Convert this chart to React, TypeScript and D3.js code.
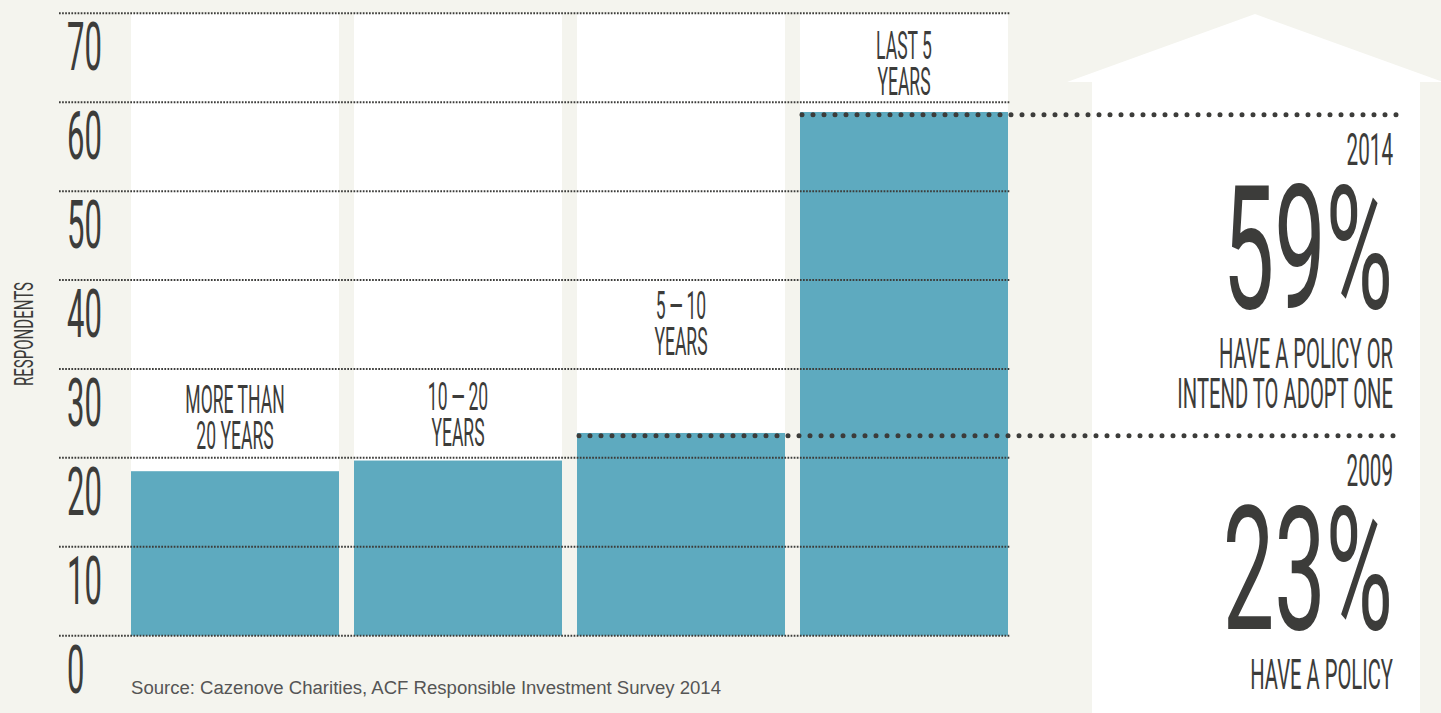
import * as d3 from "d3";

const categories = ["More than 20 years", "10-20 years", "5-10 years", "Last 5 years"];
const respondents = [18.5, 19.7, 22.8, 58.9];
const barLabels = [
  ["MORE THAN", "20 YEARS"],
  ["10\u2009\u2014\u200920", "YEARS"],
  ["5\u2009\u2014\u200910", "YEARS"],
  ["LAST 5", "YEARS"],
];
const yTicks = [0, 10, 20, 30, 40, 50, 60, 70];

const highlightBar = [3, 2];
const highlightYear = ["2014", "2009"];
const highlightPct = ["59%", "23%"];
const highlightText = [["HAVE A POLICY OR", "INTEND TO ADOPT ONE"], ["HAVE A POLICY"]];

const source = "Source: Cazenove Charities, ACF Responsible Investment Survey 2014";

const W = 1441;
const H = 713;
const BG = "#f4f4ee";
const INK = "#3c3c3a";
const BAR = "#5eaabf";
const COND = "Roboto, 'Liberation Sans', sans-serif";

// baseline of the last label line above each bar (pixels)
const labelBase = [449, 446, 355, 95];

function Cond({ x, y, size, sx = 0.46, anchor = "start", weight = 400, children }) {
  return (
    <g transform={`translate(${x},${y}) scale(${sx},1)`}>
      <text
        x={0}
        y={0}
        fontFamily={COND}
        fontSize={size}
        fontWeight={weight}
        fill={INK}
        textAnchor={anchor}
      >
        {children}
      </text>
    </g>
  );
}

export default function App() {
  const y = d3.scaleLinear().domain([0, 70]).range([635.7, 13.3]);
  const x = d3
    .scaleBand<string>()
    .domain(categories)
    .range([131, 1008])
    .paddingInner(15 / 223)
    .paddingOuter(0);

  const gridX0 = 59;
  const gridX1 = 1010;
  const panelRight = 1393;
  const dotEnd = 1397;

  return (
    <svg
      width={W}
      height={H}
      viewBox={`0 0 ${W} ${H}`}
      style={{ position: "fixed", left: 0, top: 0, display: "block" }}
    >
      <rect x={0} y={0} width={W} height={H} fill={BG} />

      {/* house-shaped panel */}
      <path d="M1067,82 L1255,14 L1443,82 L1420,82 L1420,713 L1092,713 L1092,82 Z" fill="#fff" />

      {/* white columns */}
      {categories.map((c) => (
        <rect key={c} x={x(c)} y={y(70)} width={x.bandwidth()} height={y(0) - y(70)} fill="#fff" />
      ))}

      {/* bars */}
      {categories.map((c, i) => (
        <rect
          key={c}
          x={x(c)}
          y={y(respondents[i])}
          width={x.bandwidth()}
          height={y(0) - y(respondents[i])}
          fill={BAR}
        />
      ))}

      {/* grid */}
      {yTicks.map((t) => (
        <line
          key={t}
          x1={gridX0}
          x2={gridX1}
          y1={y(t)}
          y2={y(t)}
          stroke={INK}
          strokeWidth={2}
          strokeDasharray="1.7 1.4"
        />
      ))}

      {/* y tick labels */}
      {yTicks.map((t) => (
        <Cond key={t} x={67} y={y(t) + 57} size={66} sx={0.47}>
          {t}
        </Cond>
      ))}

      <g transform="translate(33,334) rotate(-90)">
        <text
          x={0}
          y={0}
          fontFamily={COND}
          fontSize={25}
          fill={INK}
          textAnchor="middle"
          textLength={104}
          lengthAdjust="spacingAndGlyphs"
        >
          RESPONDENTS
        </text>
      </g>

      {/* bar labels */}
      {categories.map((c, i) =>
        barLabels[i].map((line, j) => (
          <Cond
            key={c + j}
            x={(x(c) as number) + x.bandwidth() / 2}
            y={labelBase[i] - (barLabels[i].length - 1 - j) * 36}
            size={39}
            anchor="middle"
            sx={0.45}
          >
            {line}
          </Cond>
        ))
      )}

      {/* highlight dotted lines and panel text */}
      {highlightBar.map((b, k) => {
        const c = categories[b];
        const dy = y(respondents[b]) + 2.7;
        return (
          <g key={k}>
            <line
              x1={(x(c) as number) + 2}
              x2={dotEnd}
              y1={dy}
              y2={dy}
              stroke={INK}
              strokeWidth={5}
              strokeLinecap="round"
              strokeDasharray="0 11"
            />
            <Cond x={panelRight} y={dy + 50} size={44} anchor="end" sx={0.47}>
              {highlightYear[k]}
            </Cond>
            <Cond x={panelRight} y={dy + 193} size={173} anchor="end" sx={0.53}>
              {highlightPct[k]}
            </Cond>
            {highlightText[k].map((line, j) => (
              <Cond key={j} x={panelRight} y={dy + 253 + j * 40} size={43} anchor="end" sx={0.47}>
                {line}
              </Cond>
            ))}
          </g>
        );
      })}

      <text
        x={131}
        y={694}
        fontFamily="'Liberation Sans', Arial, sans-serif"
        fontSize={18}
        fill="#555"
        textLength={590}
        lengthAdjust="spacingAndGlyphs"
      >
        {source}
      </text>
    </svg>
  );
}
